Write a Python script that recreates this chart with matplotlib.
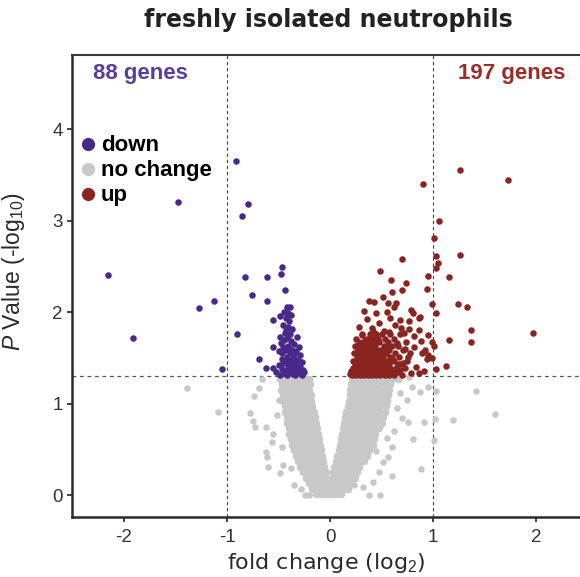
import numpy as np
import matplotlib
matplotlib.use("Agg")
import matplotlib.pyplot as plt
from matplotlib.lines import Line2D

plt.rcParams['font.family'] = ['Liberation Sans', 'DejaVu Sans']
plt.rcParams['mathtext.fontset'] = 'custom'
plt.rcParams['mathtext.rm'] = 'Liberation Sans'
plt.rcParams['mathtext.it'] = 'Liberation Sans:italic'
plt.rcParams['axes.unicode_minus'] = False

# significantly down (88 genes)
down_x = [-2.16, -1.91, -1.48, -1.27, -1.13, -1.05, -0.91, -0.85, -0.80, -0.90, -0.83, -0.76, -0.61, -0.47, -0.48,
          -0.44, -0.61, -0.69, -0.62, -0.55, -0.55,
          -0.42, -0.39, -0.41, -0.45, -0.38, -0.49, -0.43, -0.40, -0.46, -0.41, -0.37, -0.43,
          -0.49, -0.39, -0.42, -0.32, -0.45, -0.38, -0.35, -0.46, -0.41, -0.30, -0.43, -0.37, -0.33, -0.39,
          -0.29, -0.47, -0.50,
          -0.42, -0.36, -0.31, -0.44, -0.38, -0.33, -0.27, -0.50, -0.41, -0.35, -0.29, -0.55, -0.47, -0.43,
          -0.38, -0.32, -0.26, -0.52, -0.45, -0.40, -0.36, -0.30, -0.27, -0.49, -0.42, -0.34, -0.38, -0.29,
          -0.46, -0.40, -0.35, -0.44, -0.48, -0.36,
          -0.33, -0.25, -0.47, -0.40]
down_y = [2.40, 1.72, 3.20, 2.04, 2.12, 1.38, 3.65, 3.05, 3.18, 1.76, 2.38, 2.19, 2.38, 2.49, 2.42,
          2.24, 2.12, 1.49, 1.39, 1.62, 1.91,
          2.06, 2.05, 1.99, 2.00, 1.97, 1.96, 1.93, 1.90, 1.86, 1.84, 1.82, 1.80,
          1.73, 1.76, 1.72, 1.73, 1.69, 1.68, 1.65, 1.62, 1.63, 1.62, 1.58, 1.59, 1.57, 1.55,
          1.53, 1.55, 1.57,
          1.51, 1.50, 1.48, 1.47, 1.45, 1.44, 1.45, 1.42, 1.41, 1.40, 1.40, 1.39, 1.38, 1.36,
          1.37, 1.36, 1.37, 1.34, 1.33, 1.33, 1.32, 1.33, 1.31, 1.31, 1.31, 1.31, 1.35, 1.35,
          1.44, 1.46, 1.53, 1.77, 1.66, 1.42,
          1.38, 1.34, 1.49, 1.60]

# significantly up (197 genes): scattered ones + dense core by rows
up_x = [1.26, 1.73, 0.90, 1.06, 1.01, 1.03, 1.26, 1.05, 1.03, 0.70, 0.49, 0.95, 1.16, 0.94, 0.99, 1.24, 1.33,
        1.03, 1.37, 1.97, 0.95, 1.16, 1.37, 0.86, 0.87, 0.59, 0.74, 0.60, 0.70, 0.56, 0.64, 1.13, 1.03,
        0.99, 0.94, 0.89, 0.99, 1.01,
        0.38, 0.43, 0.33, 0.45, 0.55, 0.79, 0.81, 0.86, 0.77, 0.68, 0.28, 0.41, 0.52, 0.69, 0.77, 0.31,
        0.63, 0.58, 0.36, 0.48, 0.72, 0.82, 0.62, 0.51, 0.92, 0.95,
        0.68, 0.71, 0.75, 0.79, 0.83, 0.78, 0.73, 0.82, 0.65, 0.60, 0.66, 0.61, 0.55, 0.52, 0.45, 0.34,
        0.29, 0.20, 0.19, 0.86, 0.91, 0.88, 0.57, 0.42]
up_y = [3.55, 3.44, 3.40, 3.00, 2.81, 2.61, 2.62, 2.54, 2.48, 2.58, 2.45, 2.39, 2.38, 2.25, 2.09, 2.09, 2.05,
        1.99, 1.80, 1.77, 1.75, 1.69, 1.67, 1.80, 1.95, 2.35, 2.32, 2.22, 2.24, 2.10, 2.10, 1.41, 1.38,
        1.50, 1.49, 1.55, 1.67, 1.63,
        2.12, 2.11, 2.01, 1.99, 2.00, 2.02, 1.99, 1.94, 1.90, 1.91, 1.84, 1.83, 1.79, 1.83, 1.82, 1.75,
        1.86, 1.93, 1.92, 1.88, 1.77, 1.74, 2.05, 2.16, 1.58, 1.53,
        1.37, 1.44, 1.46, 1.33, 1.40, 1.55, 1.60, 1.62, 1.66, 1.50, 1.43, 1.35, 1.62, 1.58, 1.73, 1.69,
        1.57, 1.36, 1.32, 1.33, 1.36, 1.68, 1.78, 1.79]

up_core_levels = [1.31, 1.35, 1.39, 1.43, 1.47, 1.51, 1.55, 1.59, 1.63, 1.67, 1.71, 1.76]
up_core_rows = [
    [0.21, 0.25, 0.29, 0.33, 0.37, 0.41, 0.45, 0.49, 0.53, 0.57, 0.62, 0.70],
    [0.23, 0.27, 0.31, 0.35, 0.39, 0.43, 0.47, 0.51, 0.55, 0.60, 0.66],
    [0.22, 0.26, 0.30, 0.34, 0.38, 0.42, 0.46, 0.50, 0.54, 0.58, 0.64, 0.73],
    [0.24, 0.29, 0.33, 0.37, 0.41, 0.45, 0.49, 0.53, 0.57, 0.69],
    [0.22, 0.27, 0.31, 0.35, 0.40, 0.44, 0.48, 0.52, 0.56, 0.62],
    [0.26, 0.30, 0.34, 0.38, 0.43, 0.47, 0.51, 0.58, 0.67, 0.76],
    [0.23, 0.28, 0.33, 0.37, 0.41, 0.46, 0.50, 0.54, 0.63],
    [0.27, 0.31, 0.36, 0.40, 0.45, 0.49, 0.57, 0.71],
    [0.24, 0.30, 0.35, 0.39, 0.44, 0.52, 0.60, 0.66],
    [0.28, 0.33, 0.38, 0.43, 0.48, 0.56, 0.74],
    [0.25, 0.36, 0.41, 0.47, 0.53, 0.62],
    [0.31, 0.39, 0.45, 0.50, 0.58, 0.68],
]

# no change: the V-shaped cloud, read row by row
nc_levels = [1.27, 1.21, 1.15, 1.09, 1.03, 0.97, 0.91, 0.85, 0.79, 0.73, 0.67,
             0.61, 0.55, 0.49, 0.43, 0.37, 0.31, 0.25, 0.19, 0.13, 0.07, 0.01]
nc_rows = [
    [-0.49, -0.45, -0.41, -0.37, -0.33, -0.29, -0.24, -0.20, 0.21, 0.25, 0.29, 0.33, 0.37, 0.41, 0.45, 0.49, 0.54, 0.60, 0.66],
    [-0.47, -0.43, -0.39, -0.35, -0.31, -0.27, -0.23, -0.19, 0.20, 0.24, 0.28, 0.32, 0.36, 0.40, 0.44, 0.48, 0.53, 0.58],
    [-0.48, -0.44, -0.40, -0.36, -0.32, -0.28, -0.24, -0.20, 0.19, 0.23, 0.27, 0.31, 0.35, 0.39, 0.43, 0.47, 0.52, 0.57],
    [-0.46, -0.42, -0.38, -0.34, -0.30, -0.26, -0.22, -0.18, 0.19, 0.23, 0.27, 0.31, 0.35, 0.39, 0.43, 0.47, 0.51, 0.56],
    [-0.46, -0.42, -0.38, -0.34, -0.30, -0.26, -0.22, -0.18, 0.18, 0.22, 0.26, 0.30, 0.34, 0.38, 0.42, 0.46, 0.50, 0.55],
    [-0.44, -0.40, -0.36, -0.32, -0.28, -0.24, -0.20, -0.17, 0.17, 0.21, 0.25, 0.29, 0.33, 0.37, 0.41, 0.45, 0.49, 0.54],
    [-0.44, -0.40, -0.36, -0.32, -0.28, -0.24, -0.20, -0.16, 0.16, 0.20, 0.24, 0.28, 0.32, 0.36, 0.40, 0.44, 0.48, 0.53],
    [-0.42, -0.38, -0.34, -0.30, -0.26, -0.22, -0.18, -0.15, 0.15, 0.19, 0.23, 0.27, 0.31, 0.35, 0.39, 0.43, 0.47, 0.51],
    [-0.42, -0.38, -0.34, -0.30, -0.26, -0.22, -0.18, -0.14, 0.14, 0.18, 0.22, 0.26, 0.30, 0.34, 0.38, 0.42, 0.46, 0.50],
    [-0.40, -0.36, -0.32, -0.28, -0.24, -0.20, -0.16, -0.13, 0.13, 0.17, 0.21, 0.25, 0.29, 0.33, 0.37, 0.41, 0.45, 0.48],
    [-0.40, -0.36, -0.32, -0.28, -0.24, -0.20, -0.16, -0.12, 0.12, 0.16, 0.20, 0.24, 0.28, 0.32, 0.36, 0.40, 0.44],
    [-0.38, -0.34, -0.30, -0.26, -0.22, -0.18, -0.14, -0.11, 0.11, 0.15, 0.19, 0.23, 0.27, 0.31, 0.35, 0.39, 0.43],
    [-0.37, -0.33, -0.29, -0.25, -0.21, -0.17, -0.13, -0.10, 0.10, 0.14, 0.18, 0.22, 0.26, 0.30, 0.34, 0.38, 0.42],
    [-0.35, -0.31, -0.27, -0.23, -0.19, -0.15, -0.12, -0.09, 0.09, 0.13, 0.17, 0.21, 0.25, 0.29, 0.33, 0.38],
    [-0.33, -0.29, -0.25, -0.21, -0.17, -0.13, -0.10, -0.08, 0.07, 0.11, 0.15, 0.19, 0.23, 0.27, 0.31, 0.36],
    [-0.31, -0.27, -0.23, -0.19, -0.15, -0.11, -0.07, 0.06, 0.10, 0.14, 0.18, 0.22, 0.26, 0.30, 0.33],
    [-0.29, -0.25, -0.21, -0.17, -0.13, -0.09, -0.06, 0.04, 0.08, 0.12, 0.16, 0.20, 0.24, 0.28],
    [-0.26, -0.22, -0.18, -0.14, -0.10, -0.07, -0.04, 0.03, 0.07, 0.11, 0.15, 0.19, 0.23, 0.26],
    [-0.23, -0.19, -0.15, -0.11, -0.07, -0.04, 0.02, 0.06, 0.10, 0.14, 0.18, 0.22, 0.24],
    [-0.20, -0.16, -0.12, -0.08, -0.05, -0.02, 0.02, 0.05, 0.09, 0.13, 0.17, 0.20],
    [-0.17, -0.13, -0.09, -0.06, -0.03, 0.00, 0.03, 0.06, 0.10, 0.14, 0.17],
    [-0.14, -0.10, -0.07, -0.04, -0.01, 0.02, 0.05, 0.08, 0.11],
]
nc_extra_x = [-1.39, -1.09, -0.66, -0.69, -0.74, -0.78, -0.75, -0.73, -0.62, -0.55, -0.56, -0.62, -0.61, -0.60,
              -0.49, -0.46, -0.38, -0.47, -0.51, -0.50, -0.35, -0.28, -0.24, -0.20,
              1.42, 1.60, 1.19, 1.02, 1.01, 1.03, 0.95, 0.88, 0.91, 0.81, 0.60, 0.49, 0.38, 0.76, 0.70, 0.75,
              0.87, 0.80, 0.77, 0.68, 0.60, 0.56, 0.51, 0.42, 0.32, 0.23, 0.65, 0.62, 0.55, 0.48, 0.45]
nc_extra_y = [1.17, 0.91, 1.27, 1.17, 1.08, 0.90, 0.81, 0.74, 0.74, 0.67, 0.58, 0.47, 0.42, 0.31,
              0.24, 0.33, 0.30, 0.52, 0.87, 1.04, 0.11, 0.07, 0.00, 0.00,
              1.14, 0.89, 0.82, 0.83, 0.60, 1.14, 1.18, 0.29, 0.80, 0.61, 0.21, 0.00, 0.00, 0.80, 0.84, 1.04,
              1.13, 1.18, 1.29, 1.11, 0.53, 0.42, 0.36, 0.14, 0.09, 0.11, 0.95, 0.70, 0.62, 0.25, 0.48]

fc_cut = 1
p_cut = 1.3
n_down = 88
n_up = 197

c_down = '#48298a'
c_up = '#8a2420'
c_nc = '#c8c8c8'


def flatten_rows(levels, rows):
    xs = [x for row in rows for x in row]
    ys = [y for y, row in zip(levels, rows) for _ in row]
    return xs, ys


nc_x, nc_y = flatten_rows(nc_levels, nc_rows)
core_x, core_y = flatten_rows(up_core_levels, up_core_rows)
all_up_x = up_x + core_x
all_up_y = up_y + core_y

fig = plt.figure(figsize=(5.8, 5.77), dpi=100)
ax = fig.add_axes([0.1241, 0.104, 0.8759, 0.8007])

ax.scatter(nc_x, nc_y, s=30, color=c_nc, linewidths=0, zorder=2)
ax.scatter(nc_extra_x, nc_extra_y, s=22, color=c_nc, linewidths=0, zorder=2)
ax.scatter(down_x, down_y, s=22, color=c_down, linewidths=0, zorder=3)
ax.scatter(all_up_x, all_up_y, s=22, color=c_up, linewidths=0, zorder=3)

ax.axhline(p_cut, color='#555555', lw=0.9, ls=(0, (3, 3)), zorder=1)
ax.axvline(-fc_cut, color='#444444', lw=0.8, ls=(0, (3, 2.5)), zorder=1)
ax.axvline(fc_cut, color='#444444', lw=0.8, ls=(0, (3, 2.5)), zorder=1)

ax.set_xlim(-2.505, 2.427)
ax.set_ylim(-0.24, 4.81)
ax.set_xticks([-2, -1, 0, 1, 2])
ax.set_yticks([0, 1, 2, 3, 4])
ax.tick_params(axis='both', direction='out', length=3.5, width=1.3, colors='#333333',
               labelsize=13.5, pad=3)
ax.tick_params(axis='x', pad=5)

for side in ['left', 'bottom']:
    ax.spines[side].set_linewidth(1.8)
    ax.spines[side].set_color('#2a2a2a')
ax.spines['top'].set_linewidth(1.5)
ax.spines['top'].set_color('#3a3a3a')
ax.spines['right'].set_visible(False)

ax.set_xlabel('fold change (log$_2$)', family='DejaVu Sans', fontsize=16, color='#2a2a2a', labelpad=4)
ax.set_ylabel('$P$ Value (-log$_{10}$)', fontsize=16.5, color='#2a2a2a')
ax.yaxis.set_label_coords(-0.088, 0.532)

fig.text(0.567, 0.965, 'freshly isolated neutrophils', family='DejaVu Sans', fontweight='bold',
         fontsize=17, color='#222222', ha='center', va='center')

ax.text(0.041, 0.961, f'{n_down} genes', transform=ax.transAxes, fontsize=16, fontweight='bold',
        color='#5a3d9a', ha='left', va='center')
ax.text(0.972, 0.961, f'{n_up} genes', transform=ax.transAxes, fontsize=16, fontweight='bold',
        color='#982e27', ha='right', va='center')

handles = [Line2D([], [], ls='', marker='o', ms=9.5, color=c, mec='none') for c in (c_down, c_nc, c_up)]
ax.legend(handles, ['down', 'no change', 'up'], loc='upper left', bbox_to_anchor=(0.0, 0.845),
          frameon=False, prop={'size': 16, 'weight': 'bold'}, handlelength=0.6, handletextpad=0.3,
          labelspacing=0.18, borderpad=0.1, borderaxespad=0.3)

fig.savefig('out.png', dpi=100)
